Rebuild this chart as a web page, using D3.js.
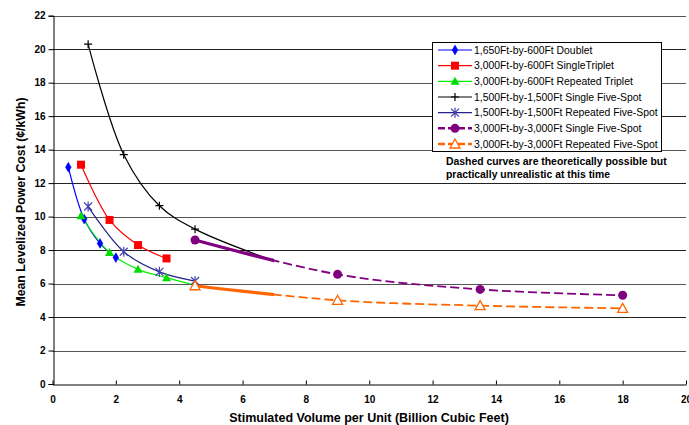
<!DOCTYPE html>
<html><head><meta charset="utf-8">
<script src="https://cdn.jsdelivr.net/npm/d3@7"></script>
<style>body{margin:0;background:#fff}svg{display:block}text{font-family:"Liberation Sans",Arial,sans-serif}</style>
</head><body><svg id="c" width="689" height="425"></svg>
<script>
// ---- data ----
const xTicks = [0,2,4,6,8,10,12,14,16,18,20];
const yTicks = [0,2,4,6,8,10,12,14,16,18,20,22];
const seriesNames = [
  "1,650Ft-by-600Ft Doublet",
  "3,000Ft-by-600Ft SingleTriplet",
  "3,000Ft-by-600Ft Repeated Triplet",
  "1,500Ft-by-1,500Ft Single Five-Spot",
  "1,500Ft-by-1,500Ft Repeated Five-Spot",
  "3,000Ft-by-3,000Ft Single Five-Spot",
  "3,000Ft-by-3,000Ft Repeated Five-Spot"
];
const doubletX = [0.5,1.0,1.5,2.0];
const doubletY = [12.95,9.85,8.4,7.55];
const singleTripletX = [0.9,1.8,2.7,3.6];
const singleTripletY = [13.1,9.8,8.3,7.5];
const repTripletX = [0.9,1.8,2.7,3.6,4.5];
const repTripletY = [10.05,7.85,6.85,6.35,5.9];
const single1500X = [1.125,2.25,3.375,4.5];
const single1500Y = [20.3,13.7,10.65,9.25];
const single1500ExtX = [7.0];   // unmarked end of curve
const single1500ExtY = [7.35];
const rep1500X = [1.125,2.25,3.375,4.5];
const rep1500Y = [10.6,7.9,6.7,6.15];
const single3000X = [4.5,9,13.5,18];
const single3000Y = [8.6,6.55,5.65,5.3];
const rep3000X = [4.5,9,13.5,18];
const rep3000Y = [5.87,5.0,4.68,4.52];
const practicalLimit = 7.0; // solid up to here, dashed beyond
const noteLines = ["Dashed curves are theoretically possible but","practically unrealistic at this time"];

// ---- chart ----
const svg = d3.select("#c");
const x = d3.scaleLinear().domain([0,20]).range([52.5,686]);
const y = d3.scaleLinear().domain([0,22]).range([384,15.7]);
const zip = (xs,ys)=>xs.map((v,i)=>[v,ys[i]]);
const line = d3.line().x(d=>x(d[0])).y(d=>y(d[1])).curve(d3.curveCatmullRom.alpha(0.5));

// gridlines
svg.append("g").selectAll("line").data(yTicks.filter(v=>v>0)).join("line")
  .attr("x1",x(0)).attr("x2",x(20)).attr("y1",d=>Math.round(y(d))+0.5).attr("y2",d=>Math.round(y(d))+0.5)
  .attr("stroke",d=>d%4===0?"#222":"#555").attr("stroke-width",1);

// axes
const yAxis = d3.axisLeft(y).tickValues(yTicks).tickSize(5).tickPadding(3);
const gy = svg.append("g").attr("transform",`translate(${Math.round(x(0))+0.5},0)`).call(yAxis);
const xAxis = d3.axisBottom(x).tickValues(xTicks).tickSize(0).tickPadding(11);
const gx = svg.append("g").attr("transform",`translate(0,${Math.round(y(0))+0.5})`).call(xAxis);
gx.selectAll(".tick").append("line").attr("y1",0).attr("y2",-4).attr("stroke","#000");
[gx,gy].forEach(g=>{
  g.select(".domain").attr("stroke","#000");
  g.selectAll(".tick line").attr("stroke","#000");
  g.selectAll("text").attr("font-size",10).attr("font-weight","bold").attr("fill","#000")
   .attr("font-family","Liberation Sans, Arial, sans-serif");
});

svg.append("text").attr("x",369).attr("y",422).attr("text-anchor","middle")
  .attr("font-size",12.5).attr("font-weight","bold").text("Stimulated Volume per Unit (Billion Cubic Feet)");
svg.append("text").attr("transform","translate(24.5,202) rotate(-90)").attr("text-anchor","middle")
  .attr("font-size",12.3).attr("font-weight","bold").text("Mean Levelized Power Cost (¢/kWh)");

// clip paths for solid/dashed parts
const defs = svg.append("defs");
defs.append("clipPath").attr("id","solid").append("rect")
  .attr("x",0).attr("y",0).attr("width",x(practicalLimit)).attr("height",425);
defs.append("clipPath").attr("id","dash").append("rect")
  .attr("x",x(practicalLimit)).attr("y",0).attr("width",689).attr("height",425);

// marker drawing
function marker(g, type, color){
  if(type==="diamond") g.append("path").attr("d",d3.symbol(d3.symbolDiamond,28)()).attr("fill",color).attr("stroke",color).attr("stroke-width",0.5);
  if(type==="square") g.append("rect").attr("x",-4).attr("y",-4).attr("width",8).attr("height",8).attr("fill",color);
  if(type==="triangle") g.append("path").attr("d","M0,-4.5L4.5,3.5L-4.5,3.5Z").attr("fill",color);
  if(type==="plus") g.append("path").attr("d","M-4,0H4M0,-4V4").attr("stroke",color).attr("stroke-width",1.2);
  if(type==="star") g.append("path").attr("d","M-4,-4L4,4M-4,4L4,-4M0,-5V5").attr("stroke",color).attr("stroke-width",1.2);
  if(type==="circle") g.append("circle").attr("r",4.5).attr("fill",color);
  if(type==="otriangle") g.append("path").attr("d","M0,-5L5,4L-5,4Z").attr("fill","#fff").attr("stroke",color).attr("stroke-width",1.3);
}
function drawMarkers(pts,type,color){
  pts.forEach(p=>{ marker(svg.append("g").attr("transform",`translate(${x(p[0])},${y(p[1])})`),type,color); });
}

const series = [
  {pts:zip(doubletX,doubletY), color:"#0000ff", mcol:"#0000ff", m:"diamond", w:1.2},
  {pts:zip(singleTripletX,singleTripletY), color:"#ff0000", mcol:"#ff0000", m:"square", w:1.2},
  {pts:zip(repTripletX,repTripletY), color:"#00ee00", mcol:"#00dd00", m:"triangle", w:1.2},
  {pts:zip(single1500X,single1500Y), ext:zip(single1500ExtX,single1500ExtY), color:"#000", mcol:"#000", m:"plus", w:1.2},
  {pts:zip(rep1500X,rep1500Y), color:"#222288", mcol:"#4040b0", m:"star", w:1.2},
  {pts:zip(single3000X,single3000Y), color:"#800080", mcol:"#800080", m:"circle", split:true},
  {pts:zip(rep3000X,rep3000Y), color:"#ff6600", mcol:"#ff6600", m:"otriangle", split:true}
];
// lines
series.forEach(s=>{
  if(s.split){
    svg.append("path").attr("d",line(s.pts)).attr("fill","none").attr("stroke",s.color)
      .attr("stroke-width",3.2).attr("clip-path","url(#solid)");
    svg.append("path").attr("d",line(s.pts)).attr("fill","none").attr("stroke",s.color)
      .attr("stroke-width",1.8).attr("stroke-dasharray","9,4").attr("clip-path","url(#dash)");
  } else {
    const pts = s.ext ? s.pts.concat(s.ext) : s.pts;
    svg.append("path").attr("d",line(pts)).attr("fill","none").attr("stroke",s.color).attr("stroke-width",s.w);
  }
});
series.forEach(s=>drawMarkers(s.pts,s.m,s.mcol));

// legend
const lg = svg.append("g");
lg.append("rect").attr("x",432.5).attr("y",42.5).attr("width",229).attr("height",109)
  .attr("fill","#fff").attr("stroke","#000");
seriesNames.forEach((n,i)=>{
  const s = series[i];
  const yy = 50 + i*15.67;
  const g = lg.append("g").attr("transform",`translate(0,${yy})`);
  g.append("line").attr("x1",438).attr("x2",472).attr("y1",0).attr("y2",0).attr("stroke",s.color)
    .attr("stroke-width",s.split?2.5:1.2).attr("stroke-dasharray",s.split?"7,3":null);
  marker(g.append("g").attr("transform","translate(455,0)"),s.m,s.mcol);
  g.append("text").attr("x",474).attr("y",3.8).attr("font-size",10.4).attr("fill","#000").text(n);
});
noteLines.forEach((t,i)=>{
  svg.append("text").attr("x",446).attr("y",165+i*13).attr("font-size",10.4).attr("font-weight","bold").text(t);
});
</script></body></html>
